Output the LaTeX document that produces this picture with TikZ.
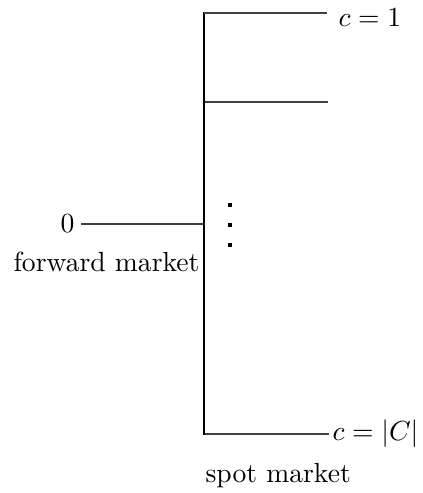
\documentclass[tikz,border=0pt]{standalone}
\begin{document}
\begin{tikzpicture}[x=0.362pt,y=-0.362pt,
  seg/.style={line width=0.45pt, draw=black!75},
  dotbox/.style={fill=black, minimum size=1.8pt, inner sep=0pt, draw=none}]
\useasboundingbox (0,0) rectangle (423,493);
% coordinates
\coordinate (vt) at (204,12);
\coordinate (vb) at (204,435);
\coordinate (t1) at (204,13);
\coordinate (t1e) at (327,13);
\coordinate (t2) at (205,102);
\coordinate (t2e) at (328,102);
\coordinate (tb) at (205,434);
\coordinate (tm) at (203,224);
% vertical
\draw[line width=0.45pt] (vt) -- (vb);
% branches
\draw[seg] (t1) -- (t1e);
\draw[seg] (t2) -- (t2e);
\node[anchor=west, inner sep=0pt] (c1) at (338,18) {$c=1$};
\node[anchor=west, inner sep=0pt] (cC) at (332,434) {$c=|C|$};
\draw[seg] (tb) -- ([xshift=-1pt]cC.west);
\node[anchor=east, inner sep=0pt] (zero) at (75,224) {$0$};
\draw[seg] (zero.east) ++(6,0) coordinate (zs) -- (tm);
\node[anchor=east, inner sep=0pt] (fm) at (200,262) {forward market};
\node[anchor=west, inner sep=0pt] (sm) at (205,476) {spot market};
% dots
\node[dotbox] (d1) at (230,205) {};
\node[dotbox] (d2) at (230,225) {};
\node[dotbox] (d3) at (230,245) {};
\end{tikzpicture}
\end{document}
